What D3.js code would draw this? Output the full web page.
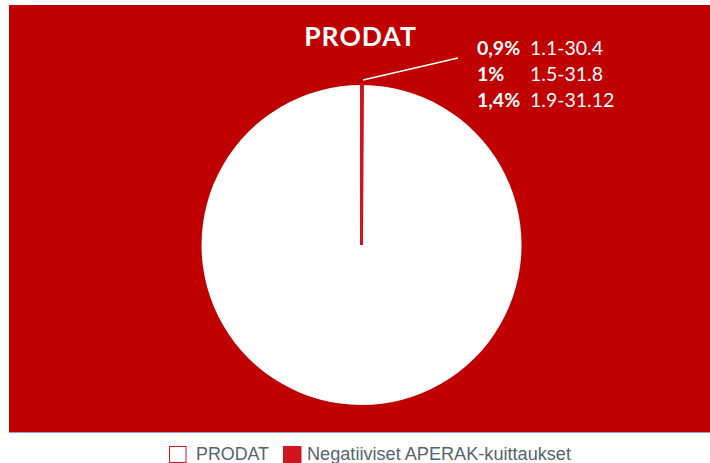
<!DOCTYPE html>
<html><head><meta charset="utf-8">
<script src="https://cdn.jsdelivr.net/npm/d3@7"></script>
<style>html,body{margin:0;padding:0;background:#fff;}svg{display:block;}</style>
</head><body>
<svg id="c" width="710" height="463"></svg>
<script>
const categories = ["Negatiiviset APERAK-kuittaukset", "PRODAT"];
const values = [0.1, 99.9];
const legendLabels = ["PRODAT", "Negatiiviset APERAK-kuittaukset"];
const percentLabels = ["0,9%", "1%", "1,4%"];
const periodLabels = ["1.1-30.4", "1.5-31.8", "1.9-31.12"];
const title = "PRODAT";

const svg = d3.select("#c");
const bgRed = "#c00000", sliceRed = "#d2141e";

svg.append("rect").attr("x", 9).attr("y", 5).attr("width", 701).attr("height", 427).attr("fill", bgRed);
svg.append("line").attr("x1", 9).attr("x2", 710).attr("y1", 432.5).attr("y2", 432.5)
  .attr("stroke", "#8aa2c8").attr("stroke-width", 1.2);

const cx = 361.5, cy = 245, r = 160;
const color = d3.scaleOrdinal().domain(categories).range([sliceRed, "#ffffff"]);
const pie = d3.pie().sort(null).value(d => d.v);
const arcs = pie(categories.map((c, i) => ({c, v: values[i]})));
const arc = d3.arc().innerRadius(0).outerRadius(r);
const g = svg.append("g").attr("transform", `translate(${cx},${cy})`);
g.selectAll("path").data(arcs).join("path")
  .attr("d", arc)
  .attr("fill", d => color(d.data.c))
  .attr("stroke", d => d.data.c === "PRODAT" ? "none" : sliceRed)
  .attr("stroke-width", 3);
g.append("path").datum(arcs[0]).attr("d", arc).attr("fill", sliceRed).attr("stroke", sliceRed).attr("stroke-width", 3);

// leader line
const a0 = arcs[0];
const p = d3.arc().innerRadius(r + 4).outerRadius(r + 4).centroid(a0);
svg.append("line").attr("x1", cx + p[0] + 1).attr("y1", cy + p[1] - 1).attr("x2", 458).attr("y2", 58)
  .attr("stroke", "#fff").attr("stroke-width", 1.5);

svg.append("text").attr("x", 360.5).attr("y", 46).attr("text-anchor", "middle")
  .attr("font-family", "Lato, 'Open Sans', sans-serif").attr("font-weight", "bold").attr("font-size", 26.5)
  .attr("letter-spacing", 1).attr("fill", "#fff").text(title);

const rowsY = [54.5, 81, 107];
percentLabels.forEach((t, i) => {
  svg.append("text").attr("x", 477).attr("y", rowsY[i])
    .attr("font-family", "Lato, 'Open Sans', sans-serif").attr("font-weight", "bold").attr("font-size", 19.5)
    .attr("fill", "#fff").text(t);
  svg.append("text").attr("x", 530).attr("y", rowsY[i])
    .attr("font-family", "Lato, 'Open Sans', sans-serif").attr("font-size", 19.5)
    .attr("fill", "#fff").text(periodLabels[i]);
});

// legend
const lg = svg.append("g");
lg.append("rect").attr("x", 169.5).attr("y", 446.5).attr("width", 16.5).attr("height", 16)
  .attr("fill", "#fff").attr("stroke", sliceRed).attr("stroke-width", 1);
lg.append("text").attr("x", 196).attr("y", 460).attr("font-family", "'Liberation Sans', Arial, sans-serif")
  .attr("font-size", 17.5).attr("fill", "#55646e").attr("textLength", 73).attr("lengthAdjust", "spacingAndGlyphs").text(legendLabels[0]);
lg.append("rect").attr("x", 283).attr("y", 446).attr("width", 18.5).attr("height", 17)
  .attr("fill", sliceRed);
lg.append("text").attr("x", 307).attr("y", 460).attr("font-family", "'Liberation Sans', Arial, sans-serif")
  .attr("font-size", 17.5).attr("fill", "#55646e").attr("textLength", 264).attr("lengthAdjust", "spacingAndGlyphs").text(legendLabels[1]);
</script>
</body></html>
